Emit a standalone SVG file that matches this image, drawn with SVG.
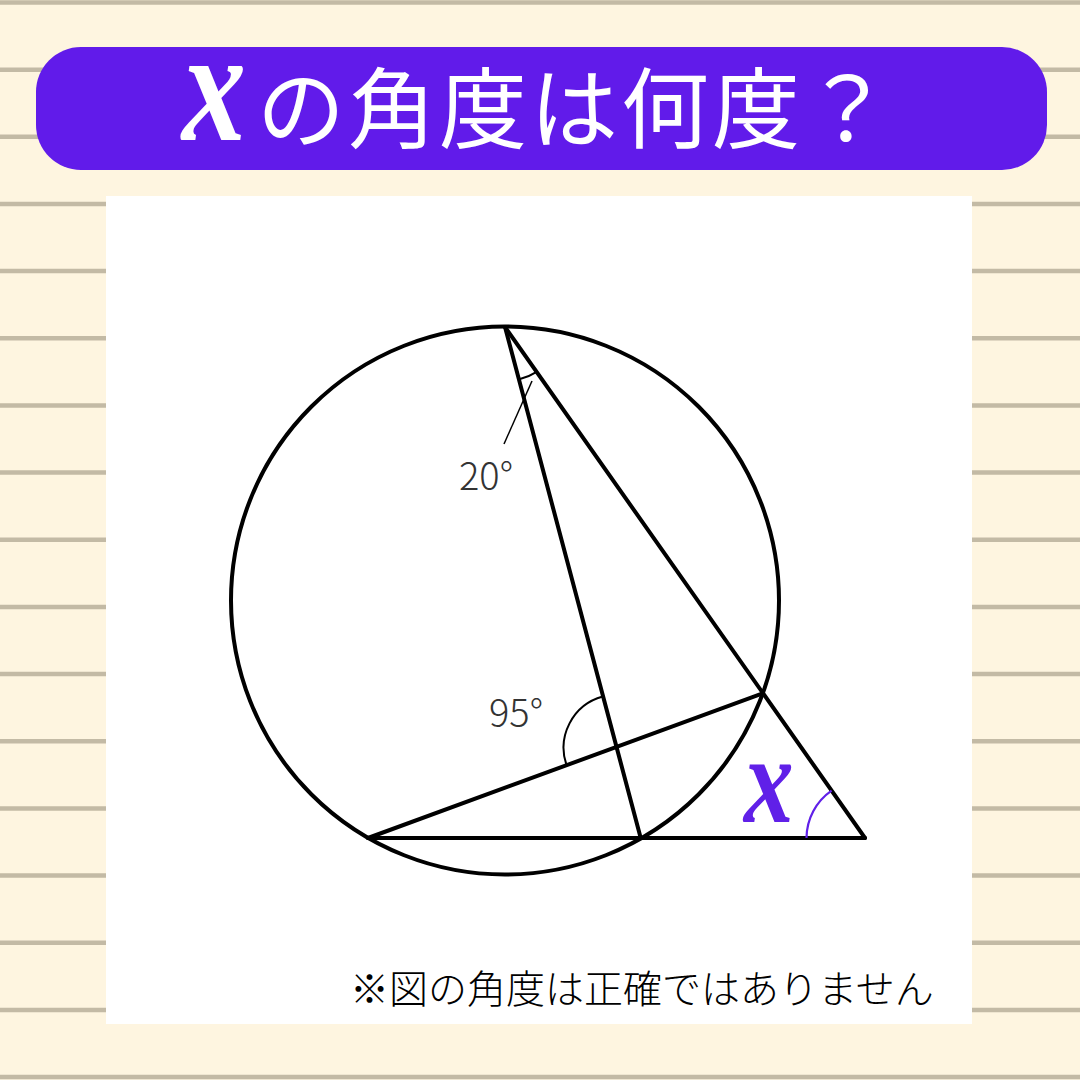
<svg xmlns="http://www.w3.org/2000/svg" width="1080" height="1080" viewBox="0 0 1080 1080">
<style>
.rule{stroke:#C3BAA5;stroke-width:4.5}
.geo{fill:none;stroke:#000;stroke-width:4;stroke-linecap:round;stroke-linejoin:round}
.arc{fill:none;stroke:#000;stroke-width:2}
.lbl{font-family:"Noto Sans CJK JP","Noto Sans",sans-serif;font-weight:300;font-size:38px;fill:#333}
.title{font-family:"Noto Sans CJK JP","Noto Sans",sans-serif;font-size:88px;fill:#fff;letter-spacing:3px}
.note{font-family:"Noto Sans CJK JP",sans-serif;font-weight:300;font-size:39px;fill:#000}
.xv{font-family:"Liberation Serif","DejaVu Serif",serif;font-style:italic;font-weight:bold}
</style>
<rect width="1080" height="1080" fill="#FEF5E0"/>
<g id="rules">
<line class="rule" x1="0" y1="2.5" x2="1080" y2="2.5"/>
<line class="rule" x1="0" y1="69.7" x2="1080" y2="69.7"/>
<line class="rule" x1="0" y1="136.8" x2="1080" y2="136.8"/>
<line class="rule" x1="0" y1="204" x2="1080" y2="204"/>
<line class="rule" x1="0" y1="271.1" x2="1080" y2="271.1"/>
<line class="rule" x1="0" y1="338.3" x2="1080" y2="338.3"/>
<line class="rule" x1="0" y1="405.5" x2="1080" y2="405.5"/>
<line class="rule" x1="0" y1="472.6" x2="1080" y2="472.6"/>
<line class="rule" x1="0" y1="539.8" x2="1080" y2="539.8"/>
<line class="rule" x1="0" y1="606.9" x2="1080" y2="606.9"/>
<line class="rule" x1="0" y1="674.1" x2="1080" y2="674.1"/>
<line class="rule" x1="0" y1="741.3" x2="1080" y2="741.3"/>
<line class="rule" x1="0" y1="808.4" x2="1080" y2="808.4"/>
<line class="rule" x1="0" y1="875.6" x2="1080" y2="875.6"/>
<line class="rule" x1="0" y1="942.7" x2="1080" y2="942.7"/>
<line class="rule" x1="0" y1="1009.9" x2="1080" y2="1009.9"/>
<line class="rule" x1="0" y1="1077" x2="1080" y2="1077"/>
</g>
<g id="banner">
<rect x="36" y="47" width="1011" height="123" rx="45" fill="#611BEA"/>
<text class="xv" transform="translate(182,140) scale(0.8,1)" font-size="160" fill="#fff">x</text>
<text class="title" x="257" y="141">の角度は何度？</text>
</g>
<rect id="panel" x="106" y="196" width="866" height="828" fill="#fff"/>
<g id="figure">
<circle class="geo" cx="505" cy="600.5" r="274"/>
</g>
<g id="connectors">
<line class="geo" x1="505" y1="327" x2="640.7" y2="838"/>
<line class="geo" x1="505" y1="327" x2="865" y2="838"/>
<line class="geo" x1="368" y1="838" x2="762.7" y2="693.3"/>
<line class="geo" x1="368" y1="838" x2="865" y2="838"/>
</g>
<g id="angle-20">
<path class="arc" d="M519.3 379.2 A55 55 0 0 0 536.7 371.9"/>
<line x1="504" y1="444" x2="532" y2="381" stroke="#000" stroke-width="1.5"/>
<text class="lbl" x="459" y="490">20°</text>
</g>
<g id="angle-95">
<path class="arc" d="M602.8 696.5 A53 53 0 0 0 566.9 766"/>
<text class="lbl" x="489" y="727">95°</text>
</g>
<g id="angle-x">
<path d="M806.5 838 A58 58 0 0 1 831.6 790.6" fill="none" stroke="#6020E8" stroke-width="2.2"/>
<text class="xv" transform="translate(744,822) scale(0.8,1)" font-size="124" fill="#6020E8">x</text>
</g>
<text class="note" x="350" y="1003">※図の角度は正確ではありません</text>
</svg>
